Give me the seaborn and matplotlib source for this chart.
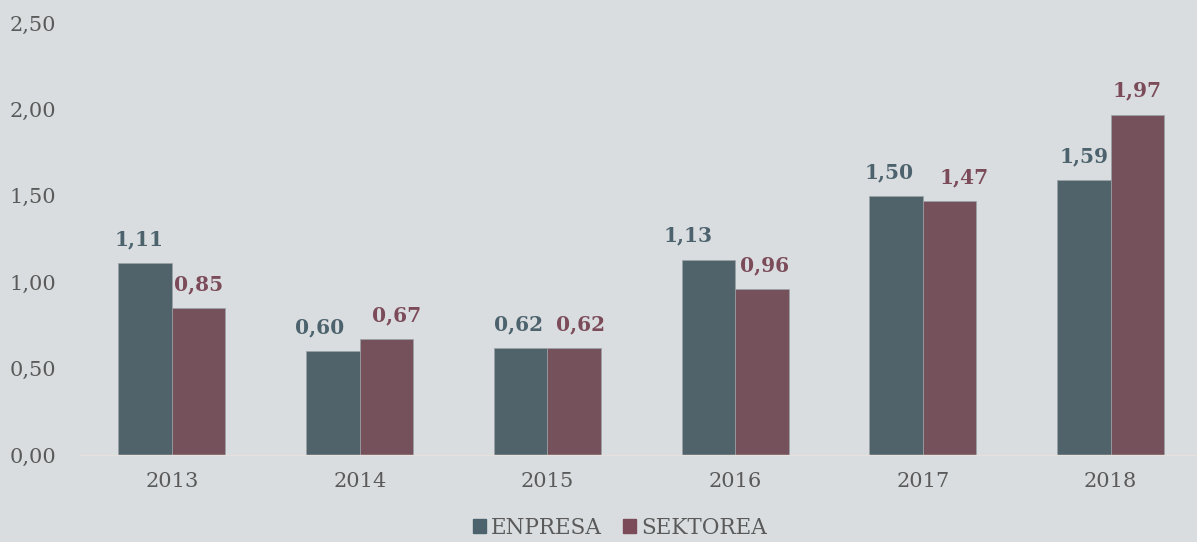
import matplotlib
matplotlib.use("Agg")
import matplotlib.pyplot as plt
import pandas as pd
import seaborn as sns

years = ["2013", "2014", "2015", "2016", "2017", "2018"]
enpresa = [1.11, 0.60, 0.62, 1.13, 1.50, 1.59]
sektorea = [0.85, 0.67, 0.62, 0.96, 1.47, 1.97]
series = ["ENPRESA", "SEKTOREA"]
colors = ["#4C636E", "#7B4B59"]

# horizontal nudge of the value labels (pixels), as in the original
nudge_enpresa = [-6, -13, -2, -20, -7, 0]
nudge_sektorea = [0, 10, 6, 3, 14, 0]

BG = "#DADDE0"
TXT = "#5A5A5A"


def fmt(v):
    return f"{v:.2f}".replace(".", ",")


df = pd.DataFrame({
    "year": years * 2,
    "value": enpresa + sektorea,
    "serie": [series[0]] * len(years) + [series[1]] * len(years),
})

sns.set_theme(style="white")
plt.rcParams["font.family"] = ["DejaVu Serif", "DejaVu Sans"]

fig = plt.figure(figsize=(11.97, 5.42), dpi=100, facecolor=BG)
ax = fig.add_axes([80 / 1197, 87 / 542, 1 - 80 / 1197, 432 / 542])
ax.set_facecolor(BG)

sns.barplot(data=df, x="year", y="value", hue="serie", palette=colors,
            width=0.57, edgecolor="#9aa3a8", linewidth=0.5, ax=ax, legend=False)

for cont, col, nudges in zip(ax.containers, colors, [nudge_enpresa, nudge_sektorea]):
    texts = ax.bar_label(cont, labels=[fmt(v) for v in cont.datavalues],
                         padding=10, color=col, fontsize=14.5, fontweight="bold")
    for t, dx in zip(texts, nudges):
        t.xyann = (dx * 0.72, 10)

ticks = [0, 0.5, 1.0, 1.5, 2.0, 2.5]
ax.set_ylim(0, 2.5)
ax.set_xlim(-0.49, 5.46)
ax.set_yticks(ticks)
ax.set_yticklabels([fmt(t) for t in ticks])
ax.set_xlabel("")
ax.set_ylabel("")
ax.tick_params(axis="both", colors=TXT, labelsize=15, length=0)
ax.tick_params(axis="x", pad=12)
ax.tick_params(axis="y", pad=17)
for s in ["top", "right", "left"]:
    ax.spines[s].set_visible(False)
ax.spines["bottom"].set_color("#E6E1DF")
ax.spines["bottom"].set_linewidth(1)

handles = [plt.Rectangle((0, 0), 1, 1, color=c) for c in colors]
fig.legend(handles, series, loc="lower center", bbox_to_anchor=(0.518, -0.03),
           ncol=2, frameon=False, fontsize=15.5, handlelength=0.6, handleheight=0.6,
           handletextpad=0.25, columnspacing=1.0, labelcolor=TXT)

fig.savefig("out.png", dpi=100, facecolor=BG)
